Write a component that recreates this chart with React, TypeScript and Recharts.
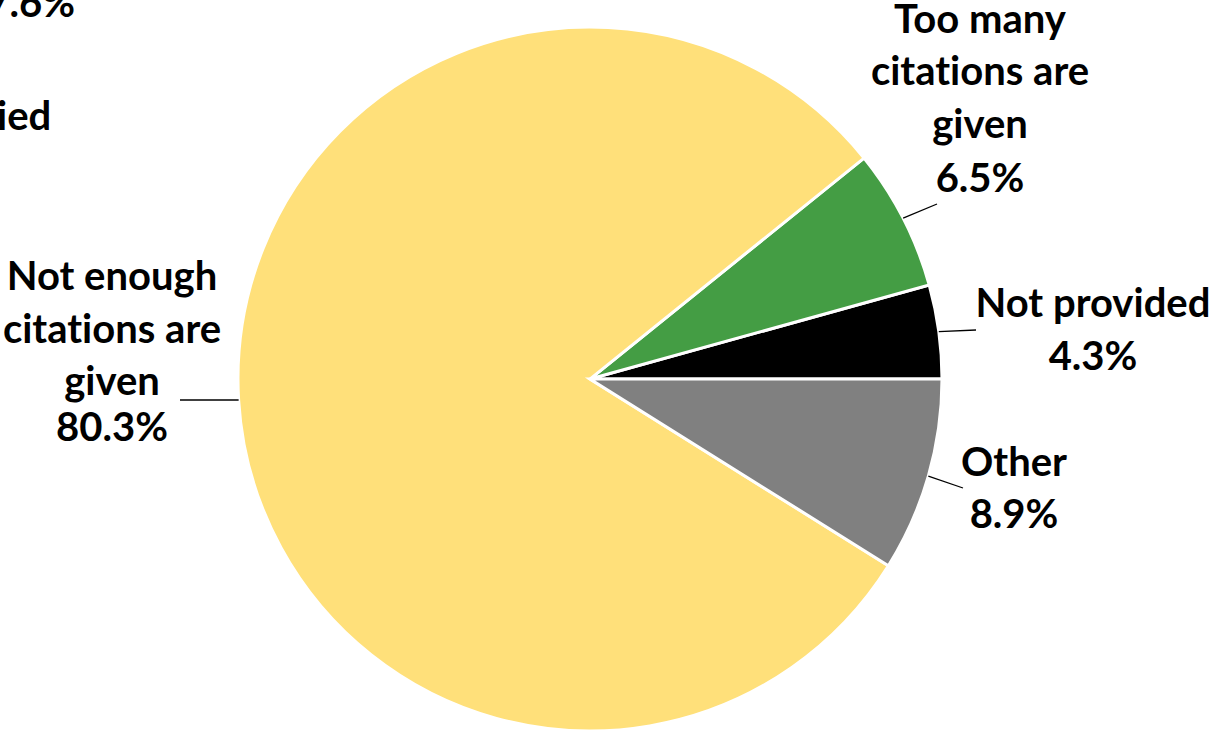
import React from "react";
import { PieChart, Pie, Cell } from "recharts";

const categories = [
  "Not provided",
  "Too many citations are given",
  "Not enough citations are given",
  "Other",
];
const shares = [4.3, 6.5, 80.3, 8.9];
const colors = ["#000000", "#449D44", "#FFE07A", "#808080"];
const labelLines = [
  ["Not provided"],
  ["Too many", "citations are", "given"],
  ["Not enough", "citations are", "given"],
  ["Other"],
];
// fragments of a neighbouring chart cropped at the left edge
const fragmentTexts = ["7.6%", "ied"];

const data = categories.map((name, i) => ({ name, value: shares[i] }));

const FONT = "Lato, 'Open Sans', sans-serif";
const FS = 40;

// label placement (layout, not data): centre x, baselines of each line, leader-line end
const labelLayout = [
  { x: 1093, ys: [317, 370], lx: 976, ly: 330 },
  { x: 980, ys: [33, 85, 138, 192], lx: 937, ly: 204 },
  { x: 112, ys: [290, 343, 395, 441], lx: 180, ly: 400 },
  { x: 1014, ys: [476, 528], lx: 963, ly: 488 },
];

const RAD = Math.PI / 180;

const textStyle: React.CSSProperties = { fontVariantLigatures: "none" };

const renderLabel = (props: any) => {
  const { cx, cy, midAngle, outerRadius, index, value } = props;
  const sx = cx + outerRadius * Math.cos(-midAngle * RAD);
  const sy = cy + outerRadius * Math.sin(-midAngle * RAD);
  const L = labelLayout[index];
  const lines = [...labelLines[index], `${Number(value).toFixed(1)}%`];
  return (
    <g key={`lbl-${index}`}>
      <line x1={sx} y1={sy} x2={L.lx} y2={L.ly} stroke="#000" strokeWidth={1.3} />
      <text
        x={L.x}
        y={L.ys[0]}
        textAnchor="middle"
        fontFamily={FONT}
        fontWeight={700}
        fontSize={FS}
        fill="#000"
        style={textStyle}
      >
        {lines.map((t, k) => (
          <tspan key={k} x={L.x} y={L.ys[k]}>
            {t}
          </tspan>
        ))}
      </text>
    </g>
  );
};

export default function App() {
  return (
    <div style={{ position: "absolute", left: 0, top: 0, width: 1212, height: 731, background: "#fff" }}>
      <PieChart width={1212} height={731} margin={{ top: 0, right: 0, bottom: 0, left: 0 }}>
        <Pie
          data={data}
          dataKey="value"
          nameKey="name"
          cx={590}
          cy={379}
          outerRadius={352}
          startAngle={0}
          endAngle={360}
          stroke="#ffffff"
          strokeWidth={3}
          label={renderLabel}
          labelLine={false}
          isAnimationActive={false}
        >
          {data.map((d, i) => (
            <Cell key={d.name} fill={colors[i]} />
          ))}
        </Pie>
      </PieChart>
      <svg width={120} height={180} style={{ position: "absolute", left: 0, top: 0 }}>
        <text x={75} y={17} textAnchor="end" fontFamily={FONT} fontWeight={700} fontSize={FS} fill="#000" style={textStyle}>
          {fragmentTexts[0]}
        </text>
        <text x={-3} y={130} fontFamily={FONT} fontWeight={700} fontSize={FS} fill="#000" style={textStyle}>
          {fragmentTexts[1]}
        </text>
      </svg>
    </div>
  );
}
